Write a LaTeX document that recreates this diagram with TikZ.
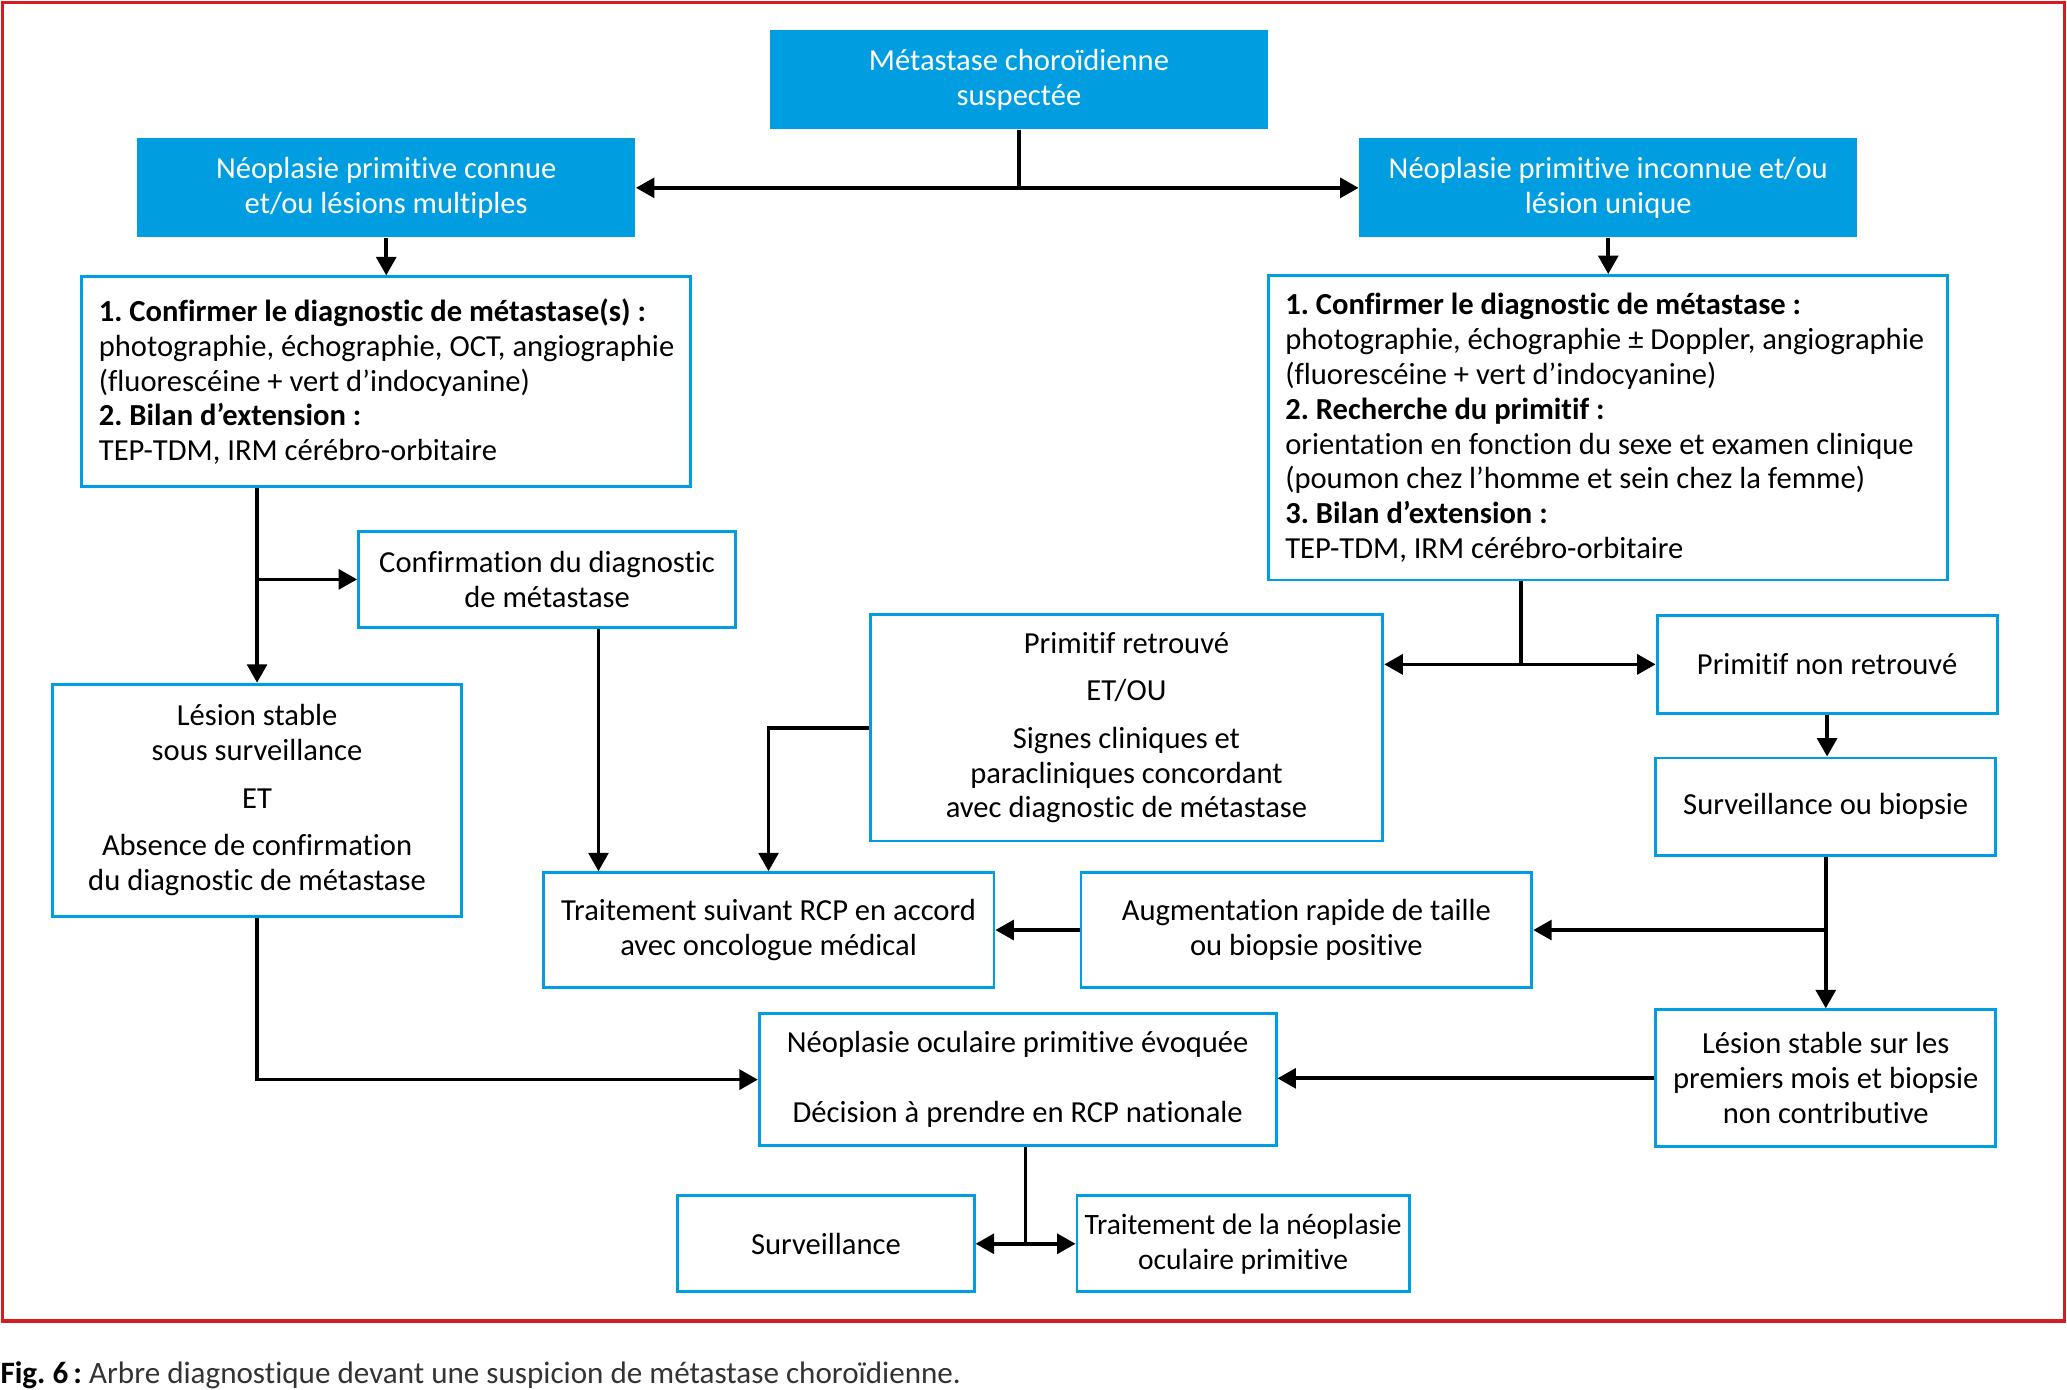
\documentclass[tikz,border=0pt]{standalone}
\usepackage{fontspec}
\setmainfont{Carlito}[Ligatures=NoCommon]
\usetikzlibrary{arrows.meta}
\definecolor{cblue}{RGB}{0,158,224}
\definecolor{cred}{RGB}{215,25,32}
\frenchspacing
\begin{document}
\begin{tikzpicture}[x=0.5pt,y=-0.5pt,
  every node/.style={font=\fontsize{11.6}{13.25}\selectfont, inner sep=0pt},
  fbox/.style={fill=cblue, text=white, align=center},
  obox/.style={draw=cblue, line width=1.1pt, align=center},
  lbox/.style={draw=cblue, line width=1.1pt, align=flush left, inner xsep=6.5pt},
  conn/.style={line width=1.4pt},
  arr/.style={line width=1.4pt, -{Triangle[length=7pt,width=7.5pt]}},
]
\useasboundingbox (0,0) rectangle (1568,1054);
\draw[cred, line width=1.4pt] (2,2) rectangle (1566,1002);

\node[fbox, minimum width=189pt, minimum height=37.5pt] (n1) at (773,60.5) {Métastase choroïdienne\\suspectée};
\node[fbox, minimum width=189pt, minimum height=37.5pt] (n2) at (293,142.5) {Néoplasie primitive connue\\et/ou lésions multiples};
\node[fbox, minimum width=189pt, minimum height=37.5pt] (n3) at (1220,142.5) {Néoplasie primitive inconnue et/ou\\lésion unique};

\node[lbox, text width=218pt, minimum height=79.5pt] (n4) at (293,289.5)
 {\mbox{\textbf{1. Confirmer le diagnostic de métastase(s) :}}\\
  \mbox{photographie, échographie, OCT, angiographie}\\
  \mbox{(fluorescéine + vert d’indocyanine)}\\
  \mbox{\textbf{2. Bilan d’extension :}}\\
  \mbox{TEP-TDM, IRM cérébro-orbitaire}};
\node[lbox, text width=244.5pt, minimum height=115.5pt] (n5) at (1219.5,324.5)
 {\mbox{\textbf{1. Confirmer le diagnostic de métastase :}}\\
  \mbox{photographie, échographie ± Doppler, angiographie}\\
  \mbox{(fluorescéine + vert d’indocyanine)}\\
  \mbox{\textbf{2. Recherche du primitif :}}\\
  \mbox{orientation en fonction du sexe et examen clinique}\\
  \mbox{(poumon chez l’homme et sein chez la femme)}\\
  \mbox{\textbf{3. Bilan d’extension :}}\\
  \mbox{TEP-TDM, IRM cérébro-orbitaire}};

\node[obox, minimum width=143pt, minimum height=36.5pt] (n6) at (415,439.5) {Confirmation du diagnostic\\de métastase};
\node[obox, minimum width=155pt, minimum height=88pt] (n7) at (195,607) {Lésion stable\\sous surveillance\\[4.75pt]ET\\[4.75pt]Absence de confirmation\\du diagnostic de métastase};
\node[obox, minimum width=194.5pt, minimum height=86pt] (n8) at (854.5,552) {Primitif retrouvé\\[4.75pt]ET/OU\\[4.75pt]Signes cliniques et\\paracliniques concordant\\avec diagnostic de métastase};
\node[obox, minimum width=129pt, minimum height=37pt] (n9) at (1386,504) {Primitif non retrouvé};
\node[obox, minimum width=129pt, minimum height=37pt] (n10) at (1385,612) {Surveillance ou biopsie};
\node[obox, minimum width=171pt, minimum height=43.5pt] (n11) at (583,705.5) {Traitement suivant RCP en accord\\avec oncologue médical};
\node[obox, minimum width=171pt, minimum height=43.5pt] (n12) at (991,705.5) {Augmentation rapide de taille\\ou biopsie positive};
\node[obox, minimum width=196pt, minimum height=50pt] (n13) at (772,819) {Néoplasie oculaire primitive évoquée\\[13.25pt]Décision à prendre en RCP nationale};
\node[obox, minimum width=129pt, minimum height=52pt] (n14) at (1385,818) {Lésion stable sur les\\premiers mois et biopsie\\non contributive};
\node[obox, minimum width=112.5pt, minimum height=36.5pt] (n15) at (626.5,943.5) {Surveillance};
\node[obox, minimum width=126pt, minimum height=36.5pt, font=\fontsize{11.2}{13.25}\selectfont] (n16) at (943,943.5) {Traitement de la néoplasie\\oculaire primitive};

\node[anchor=west, font=\fontsize{11.8}{14}\selectfont, text=black!80] (cap) at (0,1043)
 {{\color{black}\textbf{Fig. 6\,:}} Arbre diagnostique devant une suspicion de métastase choroïdienne.};

% connectors
\coordinate (j1) at (n1.south |- n2.east);
\draw[conn] (n1.south) -- (j1);
\draw[arr] (j1) -- (n2.east);
\draw[arr] (j1) -- (n3.west);
\draw[arr] (n2.south) -- (n4.north);
\draw[arr] (n3.south) -- (n3.south |- n5.north);

\draw[arr] (n7.north |- n4.south) -- (n7.north);
\draw[arr] (n7.north |- n6.west) -- (n6.west);

\coordinate (a6) at (454,0);
\draw[arr] (a6 |- n6.south) -- (a6 |- n11.north);
\draw[arr] (n8.west) -| (n11.north);

\coordinate (a5) at (1154,0);
\coordinate (j5) at (a5 |- n9.west);
\draw[conn] (a5 |- n5.south) -- (j5);
\draw[arr] (j5) -- (n8.east |- j5);
\draw[arr] (j5) -- (n9.west);

\draw[arr] (n9.south) -- (n9.south |- n10.north);
\draw[arr] (n10.south) -- (n14.north);
\draw[arr] (n10.south |- n12.east) -- (n12.east);
\draw[arr] (n12.west) -- (n11.east);
\draw[arr] (n7.south) |- (n13.west);
\draw[arr] (n14.west) -- (n14.west -| n13.east);

\coordinate (a13) at (778,0);
\coordinate (j13) at (a13 |- n15.east);
\draw[conn] (a13 |- n13.south) -- (j13);
\draw[arr] (j13) -- (n15.east);
\draw[arr] (j13) -- (n16.west);
\end{tikzpicture}
\end{document}
